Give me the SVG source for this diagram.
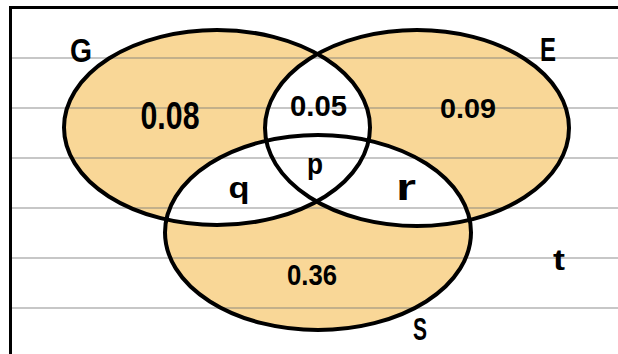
<svg xmlns="http://www.w3.org/2000/svg" width="618" height="354" viewBox="0 0 618 354">
<style>
.fill{fill:#f9d797;stroke:none}
.hole{fill:#ffffff;stroke:none}
.rule{stroke:#7a7a7a;stroke-opacity:0.42;stroke-width:2}
.outline{fill:none;stroke:#000;stroke-width:4}
.frame{stroke:#000;stroke-width:3;fill:none}
text{font-family:"Liberation Sans","DejaVu Sans",sans-serif;font-weight:bold;fill:#000;text-anchor:middle}
</style>
<defs>
<ellipse id="eG" cx="217" cy="127.5" rx="153" ry="97.5"/>
<ellipse id="eE" cx="417" cy="128" rx="152" ry="98"/>
<ellipse id="eS" cx="318" cy="232.5" rx="153" ry="97.5"/>
<clipPath id="cE"><use href="#eE"/></clipPath>
<clipPath id="cS"><use href="#eS"/></clipPath>
</defs>
<rect width="618" height="354" fill="#ffffff"/>
<g id="fills">
<use href="#eG" class="fill"/>
<use href="#eE" class="fill"/>
<use href="#eS" class="fill"/>
<use href="#eG" class="hole" clip-path="url(#cE)"/>
<use href="#eG" class="hole" clip-path="url(#cS)"/>
<use href="#eE" class="hole" clip-path="url(#cS)"/>
</g>
<g id="rules">
<line class="rule" x1="12" y1="58" x2="618" y2="58"/>
<line class="rule" x1="12" y1="108" x2="618" y2="108"/>
<line class="rule" x1="12" y1="158" x2="618" y2="158"/>
<line class="rule" x1="12" y1="208" x2="618" y2="208"/>
<line class="rule" x1="12" y1="258" x2="618" y2="258"/>
<line class="rule" x1="12" y1="308" x2="618" y2="308"/>
</g>
<g id="frame">
<path class="frame" d="M10.5 354 V7.5 H618"/>
</g>
<g id="set-G">
<use href="#eG" class="outline"/>
<text x="81" y="62" font-size="33" textLength="22" lengthAdjust="spacingAndGlyphs">G</text>
</g>
<g id="set-E">
<use href="#eE" class="outline"/>
<text x="548" y="61" font-size="33" textLength="16" lengthAdjust="spacingAndGlyphs">E</text>
</g>
<g id="set-S">
<use href="#eS" class="outline"/>
<text x="420" y="340" font-size="32" textLength="14" lengthAdjust="spacingAndGlyphs">S</text>
</g>
<g id="labels">
<text x="170" y="129" font-size="39" textLength="59" lengthAdjust="spacingAndGlyphs">0.08</text>
<text x="318.5" y="116" font-size="29" textLength="57" lengthAdjust="spacingAndGlyphs">0.05</text>
<text x="468" y="118" font-size="28" textLength="56" lengthAdjust="spacingAndGlyphs">0.09</text>
<text x="312" y="285" font-size="29" textLength="50" lengthAdjust="spacingAndGlyphs">0.36</text>
<text x="315" y="174" font-size="29" textLength="16" lengthAdjust="spacingAndGlyphs">p</text>
<text x="239" y="198" font-size="30" textLength="21" lengthAdjust="spacingAndGlyphs">q</text>
<text x="406" y="200" font-size="36" textLength="20" lengthAdjust="spacingAndGlyphs">r</text>
<text x="559" y="270" font-size="29" textLength="12" lengthAdjust="spacingAndGlyphs">t</text>
</g>
</svg>
